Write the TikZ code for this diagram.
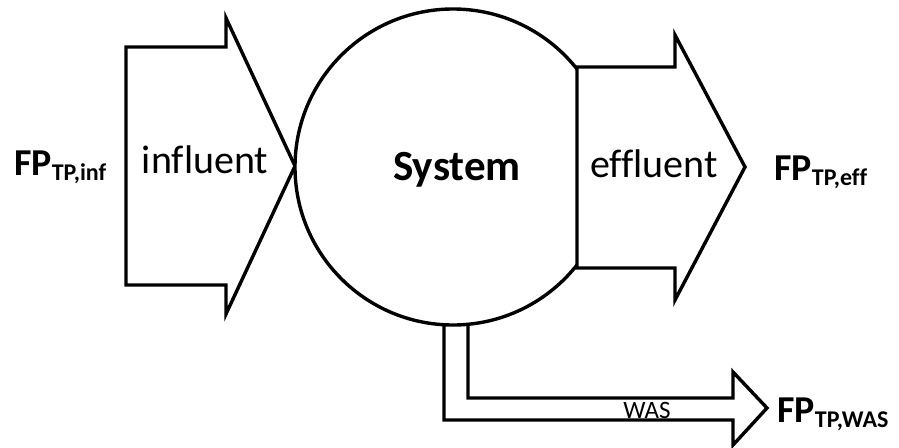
\documentclass[tikz,border=0pt]{standalone}
\usepackage{fontspec}
\setmainfont[Ligatures=NoCommon]{Carlito}
\newcommand{\fpsym}[1]{{\fontsize{38}{38}\selectfont\bfseries FP}\raisebox{-5pt}{\fontsize{24}{24}\selectfont\bfseries #1}}
\begin{document}
\begin{tikzpicture}[x=1pt,y=-1pt,
  outline/.style={line width=3.4pt, line join=miter, draw=black},
  flowlabel/.style={inner sep=0pt, anchor=base, font=\fontsize{40}{40}\selectfont},
  fplabel/.style={inner sep=0pt, anchor=base west}]
\useasboundingbox (0,0) rectangle (899,447);
% influent arrow
\draw[outline, fill=white] (126,47) coordinate (ia) -- (226,47) -- (226,18) -- (295,166) coordinate (itip) -- (226,314) -- (226,285) -- (126,285) -- cycle;
% WAS arrow
\draw[outline] (444,324) coordinate (wa) -- (444,420) -- (733,420) -- (733,445) -- (767,408) coordinate (wtip) -- (733,372) -- (733,398) -- (468,398) -- (468,324);
% system circle
\node[outline, circle, minimum size=316pt, inner sep=0pt, fill=white] (sys) at (453,167) {};
% effluent arrow
\draw[outline, fill=white] (577,67) coordinate (ea) -- (675,67) -- (675,35) -- (745,167) coordinate (etip) -- (675,300) -- (675,268) -- (577,268) -- cycle;
% labels
\node[inner sep=0pt, anchor=base, font=\fontsize{43}{43}\selectfont\bfseries] (systxt) at (457,180) {System};
\node[flowlabel] (inftxt) at (205,173) {influent};
\node[flowlabel] (efftxt) at (654,177) {effluent};
\node[inner sep=0pt, anchor=base, font=\fontsize{25}{25}\selectfont] (wastxt) at (647,418) {WAS};
\node[fplabel] (fpinf) at (14,175) {\fpsym{TP,inf}};
\node[fplabel] (fpeff) at (774,180) {\fpsym{TP,eff}};
\node[fplabel] (fpwas) at (777,422) {\fpsym{TP,WAS}};
\end{tikzpicture}
\end{document}
